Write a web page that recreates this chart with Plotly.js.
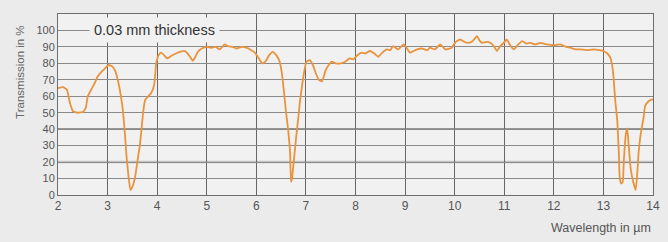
<!DOCTYPE html>
<html>
<head>
<meta charset="utf-8">
<script src="https://cdn.plot.ly/plotly-3.0.1.min.js"></script>
<style>html,body{margin:0;padding:0;background:#ebebeb;}#chart{width:668px;height:242px;}</style>
</head>
<body>
<div id="chart"></div>
<script>
// Wavelength in µm
const wavelength = [2.00,2.10,2.18,2.24,2.30,2.40,2.50,2.56,2.60,2.67,2.74,2.80,2.88,2.95,3.02,3.10,3.16,3.22,3.27,3.31,3.35,3.38,3.42,3.46,3.50,3.55,3.60,3.65,3.69,3.72,3.76,3.82,3.88,3.94,3.98,4.03,4.08,4.14,4.20,4.28,4.38,4.46,4.56,4.64,4.72,4.77,4.82,4.90,5.00,5.09,5.18,5.26,5.36,5.43,5.52,5.60,5.70,5.80,5.90,5.97,6.05,6.12,6.18,6.26,6.33,6.40,6.46,6.51,6.56,6.60,6.64,6.68,6.70,6.72,6.74,6.78,6.81,6.85,6.88,6.92,6.96,7.01,7.08,7.14,7.20,7.26,7.32,7.36,7.40,7.46,7.52,7.60,7.70,7.79,7.88,7.96,8.04,8.12,8.20,8.29,8.38,8.46,8.54,8.63,8.70,8.76,8.86,8.97,9.04,9.10,9.17,9.24,9.35,9.45,9.50,9.60,9.71,9.81,9.94,10.02,10.11,10.20,10.28,10.36,10.45,10.50,10.55,10.64,10.72,10.80,10.85,10.92,10.99,11.05,11.12,11.19,11.27,11.36,11.45,11.53,11.62,11.73,11.86,12.00,12.13,12.25,12.33,12.44,12.54,12.65,12.80,12.92,13.00,13.08,13.13,13.17,13.20,13.24,13.28,13.31,13.33,13.36,13.39,13.41,13.45,13.48,13.51,13.55,13.60,13.65,13.68,13.71,13.75,13.78,13.81,13.84,13.91,13.97,14.00];
// Transmission in %
const transmission = [65,65.5,64,56,51,50,50.5,53,60,64,68,72,75,77,79,78,75,68,60,51,37,24,12,3,5,10,20,30,42,51,58,60,62,67,80,85,86.5,85,83,84.5,86,87,87.5,85,81.5,84,87,89,90,89.5,90,88.5,91.5,90.5,90,89,90,89.5,88,86.5,83,80,81,85,87,85,82,75,62,50,40,26,8,10,16,28,37,48,57,66,74,81,82,79,74,70,69,72,76,79,81,80,80,81,83,82.5,85,86.5,86,87.5,86,84,86.5,88.5,88,90.5,88.5,91.5,89,86.5,87.5,88.5,89,88,89.5,88.5,91.5,88.5,89.5,93,94.5,93,92.5,93.5,96.5,94,92.5,93,92.5,90,87.5,90.5,92.5,94.5,91,88.5,91,93.5,92,92.5,91.5,92.5,91.5,91,91.5,90,89.5,88.5,88.5,88,88.5,88,87.5,86,84,80,73,57,45,26,10,7,8,20,36.6,40.5,30,16,8,3,12,26,36.6,42,47,54,57,58,58];
const xTicks = [2,3,4,5,6,7,8,9,10,11,12,13,14];
const yTicks = [0,10,20,30,40,50,60,70,80,90,100];
const legendLabel = '0.03 mm thickness';
const yTitle = 'Transmission in %';
const xTitle = 'Wavelength in µm';

const font = 'Liberation Sans, Arial, sans-serif';
const trace = {
  x: wavelength, y: transmission, type: 'scatter', mode: 'lines',
  line: {color: '#e9933d', width: 1.8, shape: 'spline', smoothing: 0.4},
  hoverinfo: 'skip', showlegend: false
};
const layout = {
  width: 668, height: 242,
  margin: {l: 58, r: 15, t: 14, b: 47},
  paper_bgcolor: '#ebebeb', plot_bgcolor: '#f1f1f1',
  font: {family: font, color: '#555'},
  xaxis: {
    range: [2, 14], tickvals: xTicks, ticktext: xTicks.map(String),
    showgrid: true, gridcolor: '#666', gridwidth: 1,
    showline: true, linecolor: '#6e6e6e', linewidth: 1, mirror: true,
    zeroline: false, ticks: '', tickfont: {size: 12, color: '#555', family: font}
  },
  yaxis: {
    range: [0, 110], tickvals: yTicks, ticktext: yTicks.map(String),
    showgrid: true, gridcolor: '#8a8a8a', gridwidth: 1,
    showline: true, linecolor: '#6e6e6e', linewidth: 1, mirror: true,
    zeroline: false, ticks: '', tickfont: {size: 11, color: '#555', family: font}
  },
  shapes: [
    {type: 'line', xref: 'paper', x0: 0, x1: 1, yref: 'y', y0: 40, y1: 40, line: {color: '#3a3a3a', width: 1.2}, layer: 'below'},
    {type: 'line', xref: 'paper', x0: 0, x1: 1, yref: 'y', y0: 20, y1: 20, line: {color: '#c4c4c4', width: 2.5}, layer: 'below'}
  ],
  annotations: [
    {text: legendLabel, xref: 'x', x: 2.62, yref: 'y', y: 100, xanchor: 'left', yanchor: 'middle',
     showarrow: false, bgcolor: '#f1f1f1', borderpad: 4, font: {size: 14.5, color: '#333', family: font}},
    {text: yTitle, textangle: -90, xref: 'paper', x: 0, xshift: -38, xanchor: 'center',
     yref: 'paper', y: 0.68, yanchor: 'middle', showarrow: false, font: {size: 11.5, color: '#666', family: font}},
    {text: xTitle, xref: 'paper', x: 1, xanchor: 'right', yref: 'paper', y: 0, yanchor: 'top', yshift: -24,
     showarrow: false, font: {size: 12.5, color: '#555', family: font}}
  ]
};
Plotly.newPlot('chart', [trace], layout, {displayModeBar: false, staticPlot: true});
</script>
</body>
</html>
